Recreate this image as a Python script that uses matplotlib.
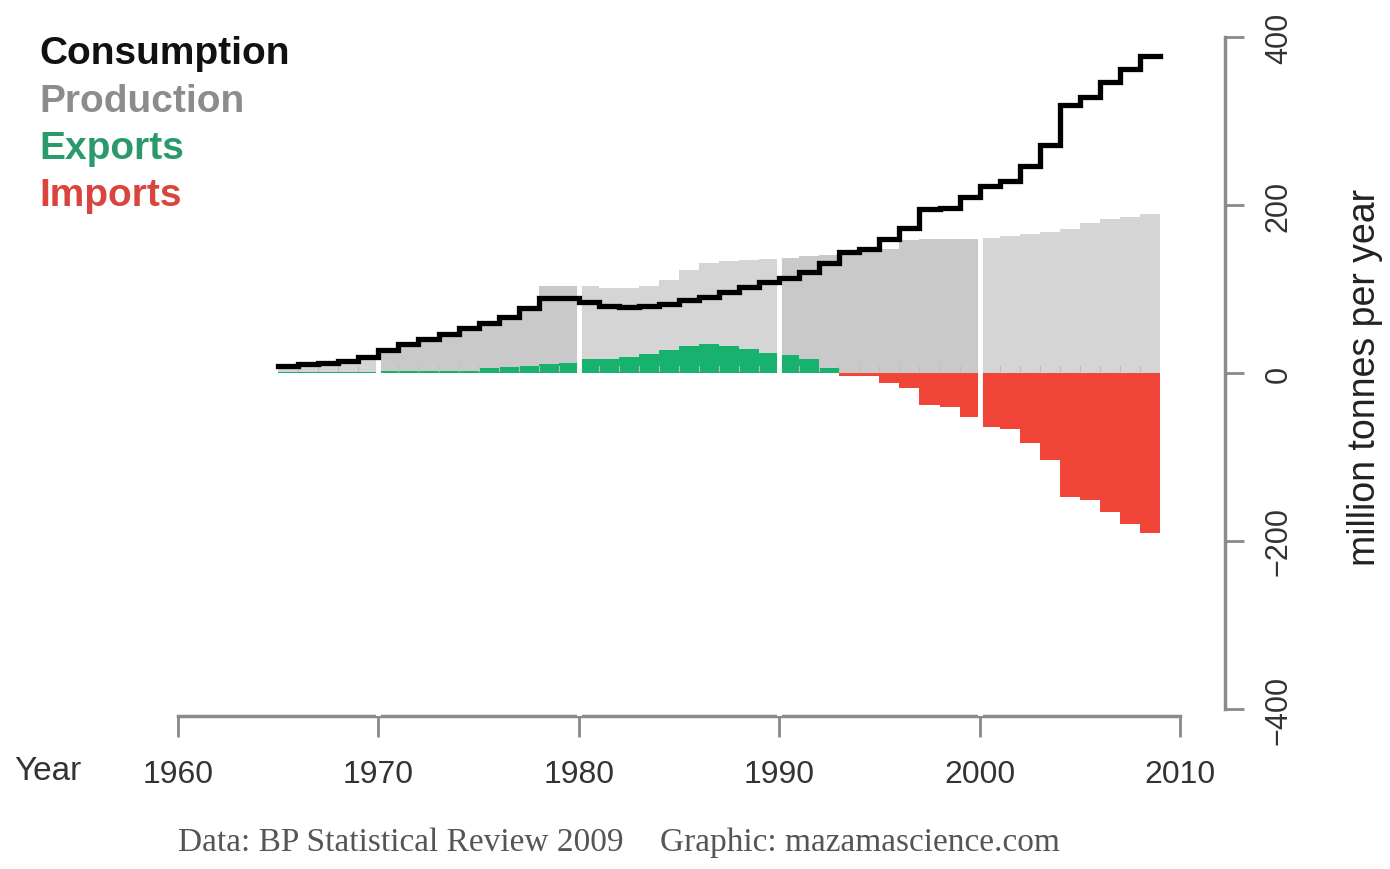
import numpy as np
import matplotlib
matplotlib.use("Agg")
import matplotlib.pyplot as plt

# ---- data (million tonnes per year) ----
years = list(range(1965, 2009))
consumption = [8, 11, 12.5, 14, 19, 27, 35, 40, 47, 53,
               60, 67, 77, 89, 89, 85, 80, 78.5, 80, 82.5,
               87, 91, 96, 102, 108, 113, 120, 131, 144, 148,
               159, 173, 195, 197, 209, 223, 228, 246, 271, 319,
               328, 346, 362, 377]
production = [9, 12, 13.5, 15, 20, 28.5, 36.5, 41.5, 48.5, 55,
              62, 69, 80, 103, 104, 104, 101, 101, 103, 111,
              123, 131, 133, 135, 136, 137, 139, 140, 143, 145,
              148, 158, 159, 160, 160, 161, 163, 166, 168, 172,
              179, 183, 186, 189]
exports = [1, 1, 1, 1, 1, 2, 2, 2, 2, 2,
           6, 7, 8.5, 11, 12, 16.5, 17, 19.5, 22.5, 27.5,
           32.5, 34, 32, 28, 24, 22, 17, 6.5, 0, 0,
           0, 0, 0, 0, 0, 0, 0, 0, 0, 0,
           0, 0, 0, 0]
imports = [0, 0, 0, 0, 0, 0, 0, 0, 0, 0,
           0, 0, 0, 0, 0, 0, 0, 0, 0, 0,
           0, 0, 0, 0, 0, 0, 0, 0, -3, -4,
           -12, -18, -38, -40, -52, -64, -67, -83, -104, -148,
           -151, -166, -180, -190]
x_ticks = [1960, 1970, 1980, 1990, 2000, 2010]
y_ticks = [-400, -200, 0, 200, 400]
legend_labels = ["Consumption", "Production", "Exports", "Imports"]

plt.rcParams['font.family'] = ['Liberation Sans', 'DejaVu Sans']

W, H = 1390, 870
fig = plt.figure(figsize=(W / 100, H / 100), dpi=100)
px_per_year = (1180 - 178) / 50.0
px_per_unit = (710 - 38) / 800.0
ax = fig.add_axes([178 / W, 1 - 717 / H, (1225 - 178) / W, (717 - 38) / H])
ax.set_xlim(1960, 1960 + (1225 - 178) / px_per_year)
ax.set_ylim(-400 - (717 - 710) / px_per_unit, 400)

yrs = np.array(years)
light_gray, dark_gray = '#d5d5d5', '#c9c9c9'
prod_colors = [dark_gray if ((y // 10) % 2 == 1) else light_gray for y in years]
ax.bar(yrs, production, width=1.0, align='edge', color=prod_colors, linewidth=0, zorder=1)
ax.bar(yrs, exports, width=1.0, align='edge', color='#17b26e', linewidth=0, zorder=2)
ax.bar(yrs, imports, width=1.0, align='edge', color='#f2453a', linewidth=0, zorder=2)

# faint year marks near zero line
for y in years[1:]:
    ax.plot([y, y], [2, 8], color='#bdbdbd', lw=0.8, zorder=3)

# white decade separators
for d in [1970, 1980, 1990, 2000]:
    ax.axvline(d, color='white', lw=3.5, zorder=4)

xs = np.append(yrs, yrs[-1] + 1)
cs = np.append(consumption, consumption[-1])
ax.step(xs, cs, where='post', color='black', lw=3.8, zorder=5,
        solid_joinstyle='miter')

# axes styling
for s in ['top', 'left']:
    ax.spines[s].set_visible(False)
for s in ['bottom', 'right']:
    ax.spines[s].set_color('#8a8a8a')
    ax.spines[s].set_linewidth(2.5)
ax.spines['bottom'].set_bounds(1960, 2010)
ax.spines['right'].set_bounds(-400, 400)

ax.set_xticks(x_ticks)
ax.set_xticklabels([str(t) for t in x_ticks])
ax.yaxis.tick_right()
ax.yaxis.set_label_position('right')
ax.set_yticks(y_ticks)
ax.set_yticklabels(['\u2212' + str(-t) if t < 0 else str(t) for t in y_ticks],
                   rotation=90, va='center')
ax.tick_params(axis='x', direction='out', length=15, width=2, color='#8a8a8a',
               labelsize=23, labelcolor='#333333', pad=16)
ax.tick_params(axis='y', direction='out', length=14, width=2, color='#8a8a8a',
               labelsize=22, labelcolor='#333333', pad=14)
ax.set_ylabel('million tonnes per year', fontsize=27, color='#222222',
              rotation=90, labelpad=38)

fig.text(14 / W, 1 - 772 / H, 'Year', fontsize=24, color='#333333',
         ha='left', va='center')

leg_colors = ['#111111', '#8c8c8c', '#2a9a6c', '#d9443c']
for i, (lab, c) in enumerate(zip(legend_labels, leg_colors)):
    fig.text(39 / W, 1 - (54 + 47.5 * i) / H, lab, fontsize=28,
             fontweight='bold', color=c, ha='left', va='center')

fig.text(178 / W, 1 - 843 / H, 'Data: BP Statistical Review 2009',
         family='Liberation Serif', fontsize=24, color='#555555',
         ha='left', va='center')
fig.text(660 / W, 1 - 843 / H, 'Graphic: mazamascience.com',
         family='Liberation Serif', fontsize=24, color='#555555',
         ha='left', va='center')

fig.savefig('out.png', dpi=100, facecolor='white')
